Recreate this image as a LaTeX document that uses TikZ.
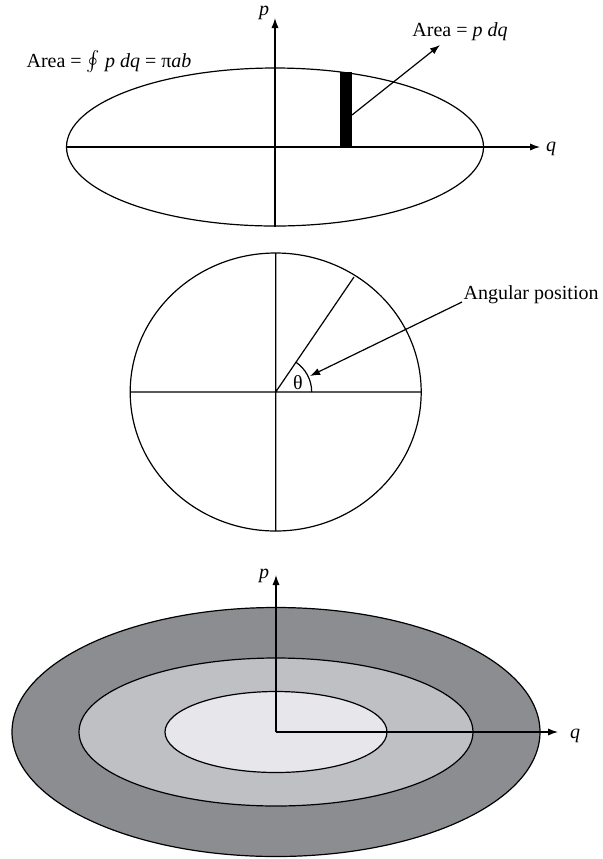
\documentclass[tikz,border=0pt]{standalone}
\usepackage{fontspec}
\setmainfont{Liberation Serif}
\usetikzlibrary{arrows.meta}
\definecolor{ringD}{RGB}{140,141,145}
\definecolor{ringM}{RGB}{191,192,196}
\definecolor{ringL}{RGB}{231,231,235}

\begin{document}
\begin{tikzpicture}[>={Latex[length=5pt,width=3.6pt]},x=0.5pt,y=-0.5pt,line width=0.6pt,
  lbl/.style={inner sep=1pt,font=\normalsize}]
\useasboundingbox (0,0) rectangle (602,859);
% top: orbit in phase space, strip of area p dq
\begin{scope}
\coordinate (O) at (275,147); \coordinate (Qe) at (66,147); \coordinate (Qt) at (540,147);
\coordinate (Pb) at (275,227); \coordinate (Pt) at (275,18);
\coordinate (S) at (352,115); \coordinate (St) at (440,45);
\draw (O) ellipse [x radius=208.5,y radius=79];
\fill (340,72) rectangle (352,147);
\draw[->] (Qe)--(Qt); \draw[->] (Pb)--(Pt);
\draw[->] (S)--(St);
\node[lbl] (pTop) at (264,13) {\textit{p}};
\node[lbl] (qTop) at (551,149) {\textit{q}};
\node[lbl] (areaStrip) at (460,32) {Area = \textit{p dq}};
\node[lbl] (areaLoop) at (109,62) {Area = $\oint$ \textit{p dq} = π\textit{ab}};
\end{scope}
% middle: angular position on the circle
\begin{scope}
\coordinate (C) at (275.7,392); \coordinate (Cw) at (130,392); \coordinate (Ce) at (421,392);
\coordinate (Cn) at (275.7,253); \coordinate (Cs) at (275.7,531); \coordinate (R) at (354,277);
\coordinate (A) at (462,302); \coordinate (At) at (310,376);
\draw (C) ellipse [x radius=145.5,y radius=139];
\draw (Cw)--(Ce) (Cn)--(Cs) (C)--(R);
\draw (C) ++(36,0) arc [start angle=0,end angle=-55.6,radius=36];
\draw[->] (A)--(At);
\node[lbl] (theta) at (298,383) {θ};
\node[lbl,anchor=west] (angLbl) at (461,295) {Angular position};
\end{scope}
% bottom: nested orbits
\begin{scope}
\coordinate (O) at (276,732); \coordinate (Qt) at (558,732); \coordinate (Pt) at (276,575);
\draw[fill=ringD] (O) ellipse [x radius=264,y radius=124.5];
\draw[fill=ringM] (O) ellipse [x radius=197,y radius=74];
\draw[fill=ringL] (O) ellipse [x radius=111,y radius=40.5];
\draw[->] (O)--(Qt); \draw[->] (O)--(Pt);
\node[lbl] (pBot) at (264,576) {\textit{p}};
\node[lbl] (qBot) at (575,736) {\textit{q}};
\end{scope}
\end{tikzpicture}
\end{document}
